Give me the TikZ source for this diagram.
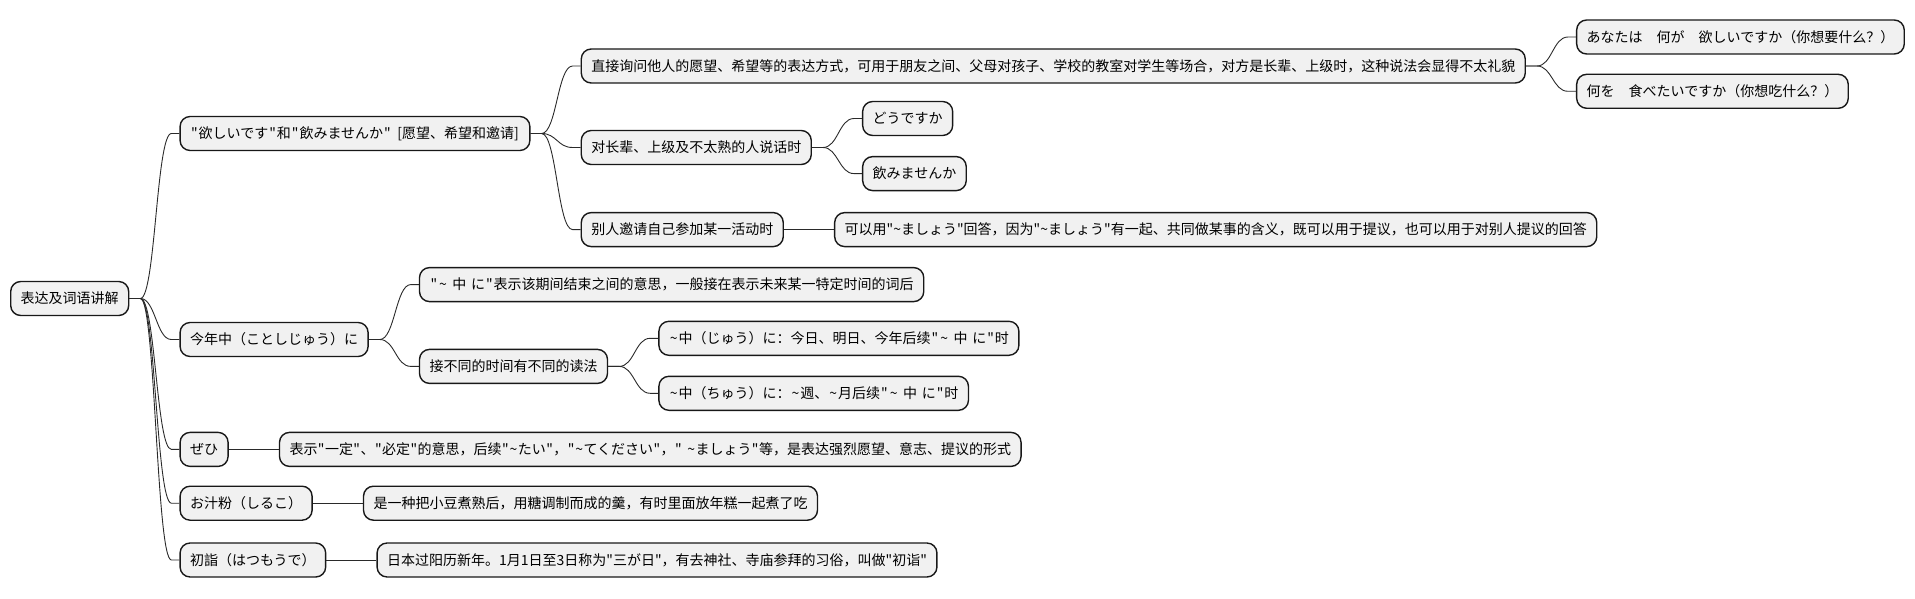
\documentclass[tikz,border=0pt]{standalone}
\usepackage{fontspec}
\setmainfont{Noto Sans CJK SC}[Ligatures=TeXOff]
\usetikzlibrary{positioning}
\definecolor{boxfill}{HTML}{F1F1F1}
\definecolor{boxline}{HTML}{181818}
\definecolor{connline}{HTML}{2A2A2A}
\newcommand{\qk}{1pt}
\newcommand{\qt}{\kern\qk"\kern\qk}
\newcommand{\tld}{\kern\qk\textasciitilde\kern\qk}
\newcommand{\gsp}{\hspace{4.6pt}}
\tikzset{
  box/.style={draw=boxline, fill=boxfill, line width=1.4pt, rounded corners=10pt,
    font=\fontsize{14pt}{16pt}\selectfont, inner xsep=10pt, inner ysep=0pt,
    text height=12.3pt, text depth=1.7pt, minimum height=34pt},
  conn/.style={draw=connline, line width=0.9pt},
  gap/.style={node distance=50pt}
}
\newcommand{\mmcurve}[2]{\draw[conn] (#1.east) -- ++(11,0) .. controls +(15,0) and +(-15,0) .. ([xshift=-8pt]#2.west) -- (#2.west);}
\newcommand{\mmline}[2]{\draw[conn] (#1.east) -- (#2.west);}
\begin{document}
\begin{tikzpicture}[x=1pt,y=1pt,gap]
\useasboundingbox (0,0) rectangle (1915,-599);
\node[box, anchor=west] (R) at (10,-298.5) {表达及词语讲解};
% level 1
\node[box, right=of R, yshift=165pt] (N1) {\qt{}欲しいです\qt{}和\qt{}飲みませんか\qt{}\gsp\kern1pt[愿望、希望和邀请]\kern1pt};
\node[box, right=of R, yshift=-41pt] (N2) {今年中（ことしじゅう）に};
\node[box, right=of R, yshift=-150.9pt] (N3) {ぜひ};
\node[box, right=of R, yshift=-204.7pt] (N4) {お汁粉（しるこ）};
\node[box, right=of R, yshift=-261.5pt] (N5) {初詣（はつもうで）};
% level 2 under N1
\node[box, right=of N1, yshift=67.5pt] (A) {直接询问他人的愿望、希望等的表达方式，可用于朋友之间、父母对孩子、学校的教室对学生等场合，对方是长辈、上级时，这种说法会显得不太礼貌};
\node[box, right=of N1, yshift=-14pt] (B) {对长辈、上级及不太熟的人说话时};
\node[box, right=of N1, yshift=-96.1pt] (C) {别人邀请自己参加某一活动时};
% level 3
\node[box, right=of A, yshift=29pt] (A1) {あなたは　何が　欲しいですか（你想要什么？）};
\node[box, right=of A, yshift=-25.3pt] (A2) {何を　食べたいですか（你想吃什么？）};
\node[box, right=of B, yshift=29pt] (B1) {どうですか};
\node[box, right=of B, yshift=-26.1pt] (B2) {飲みませんか};
\node[box, right=of C] (C1) {\renewcommand{\qk}{0pt}可以用\qt{}\tld{}ましょう\qt{}回答，因为\qt{}\tld{}ましょう\qt{}有一起、共同做某事的含义，既可以用于提议，也可以用于对别人提议的回答};
% under N2
\node[box, right=of N2, yshift=54.9pt] (D) {\qt{}\tld{}\gsp{}中\gsp{}に\qt{}表示该期间结束之间的意思，一般接在表示未来某一特定时间的词后};
\node[box, right=of N2, yshift=-26.9pt] (E) {接不同的时间有不同的读法};
\node[box, right=of E, yshift=28.1pt] (E1) {\tld{}中（じゅう）に：今日、明日、今年后续\qt{}\tld{}\gsp{}中\gsp{}に\qt{}时};
\node[box, right=of E, yshift=-26.9pt] (E2) {\tld{}中（ちゅう）に：\tld{}週、\tld{}月后续\qt{}\tld{}\gsp{}中\gsp{}に\qt{}时};
% single children
\node[box, right=of N3] (N3c) {\renewcommand{\qk}{0.45pt}表示\qt{}一定\qt{}、\qt{}必定\qt{}的意思，后续\qt{}\tld{}たい\qt{}，\qt{}\tld{}てください\qt{}，\qt{}\gsp{}\tld{}ましょう\qt{}等，是表达强烈愿望、意志、提议的形式};
\node[box, right=of N4] (N4c) {是一种把小豆煮熟后，用糖调制而成的羹，有时里面放年糕一起煮了吃};
\node[box, right=of N5] (N5c) {\renewcommand{\qk}{0pt}日本过阳历新年。1月1日至3日称为\qt{}三が日\qt{}，有去神社、寺庙参拜的习俗，叫做\qt{}初诣\qt{}};
% connectors
\mmcurve{R}{N1}
\mmcurve{R}{N2}
\mmcurve{R}{N3}
\mmcurve{R}{N4}
\mmcurve{R}{N5}
\mmcurve{N1}{A}
\mmcurve{N1}{B}
\mmcurve{N1}{C}
\mmcurve{A}{A1}
\mmcurve{A}{A2}
\mmcurve{B}{B1}
\mmcurve{B}{B2}
\mmline{C}{C1}
\mmcurve{N2}{D}
\mmcurve{N2}{E}
\mmcurve{E}{E1}
\mmcurve{E}{E2}
\mmline{N3}{N3c}
\mmline{N4}{N4c}
\mmline{N5}{N5c}
\end{tikzpicture}
\end{document}
